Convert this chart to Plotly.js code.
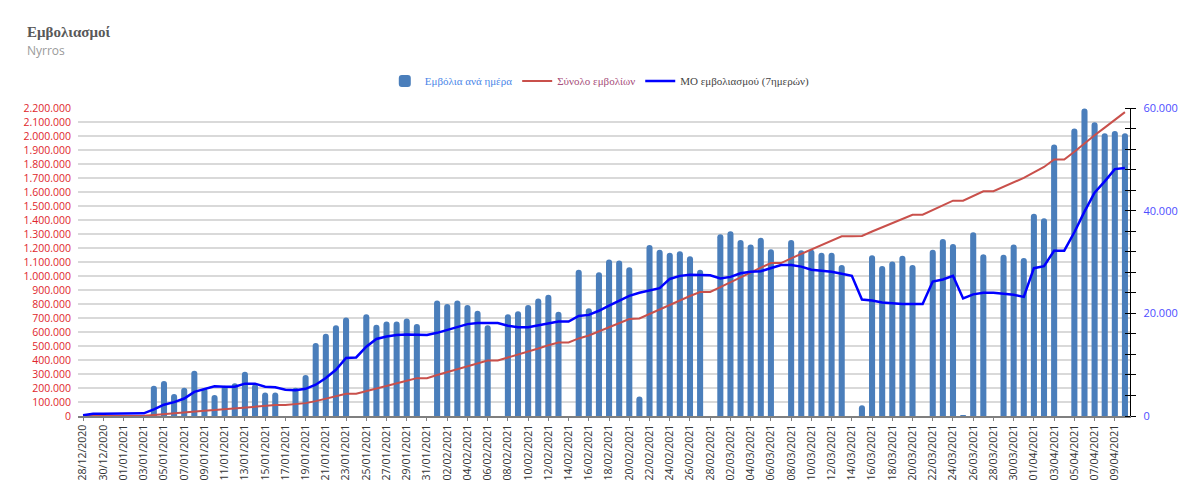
<!DOCTYPE html>
<html>
<head>
<meta charset="utf-8">
<script src="https://cdn.plot.ly/plotly-3.0.1.min.js"></script>
<style>html,body{margin:0;padding:0;background:#fff}#chart{width:1200px;height:501px}</style>
</head>
<body>
<div id="chart"></div>
<script>
const dates = [
"28/12/2020","29/12/2020","30/12/2020","31/12/2020",
"01/01/2021","02/01/2021","03/01/2021","04/01/2021","05/01/2021","06/01/2021","07/01/2021","08/01/2021","09/01/2021","10/01/2021",
"11/01/2021","12/01/2021","13/01/2021","14/01/2021","15/01/2021","16/01/2021","17/01/2021","18/01/2021","19/01/2021","20/01/2021",
"21/01/2021","22/01/2021","23/01/2021","24/01/2021","25/01/2021","26/01/2021","27/01/2021","28/01/2021","29/01/2021","30/01/2021","31/01/2021",
"01/02/2021","02/02/2021","03/02/2021","04/02/2021","05/02/2021","06/02/2021","07/02/2021","08/02/2021","09/02/2021","10/02/2021",
"11/02/2021","12/02/2021","13/02/2021","14/02/2021","15/02/2021","16/02/2021","17/02/2021","18/02/2021","19/02/2021","20/02/2021",
"21/02/2021","22/02/2021","23/02/2021","24/02/2021","25/02/2021","26/02/2021","27/02/2021","28/02/2021",
"01/03/2021","02/03/2021","03/03/2021","04/03/2021","05/03/2021","06/03/2021","07/03/2021","08/03/2021","09/03/2021","10/03/2021",
"11/03/2021","12/03/2021","13/03/2021","14/03/2021","15/03/2021","16/03/2021","17/03/2021","18/03/2021","19/03/2021","20/03/2021",
"21/03/2021","22/03/2021","23/03/2021","24/03/2021","25/03/2021","26/03/2021","27/03/2021","28/03/2021","29/03/2021","30/03/2021","31/03/2021",
"01/04/2021","02/04/2021","03/04/2021","04/04/2021","05/04/2021","06/04/2021","07/04/2021","08/04/2021","09/04/2021","10/04/2021"
];

const dailyDoses = [
0,450,400,0,0,0,0,5900,6800,4300,5500,8800,5400,4100,
5900,6400,8600,6200,4600,4600,0,5500,8000,14200,
16000,17700,19200,0,19800,17800,18400,18400,19000,17900,0,
22500,21800,22500,21600,20500,17700,0,19800,20400,21600,
22900,23600,20300,0,28500,21000,28000,30500,30300,29000,
3800,33300,32400,31800,32100,31100,28500,0,
35400,36000,34300,33400,34700,32500,0,34300,32300,32400,
31800,31800,29400,0,2100,31300,29200,30100,31200,29400,
0,32400,34500,33500,200,35800,31500,0,31400,33400,30800,
39400,38500,52900,0,56000,59900,57200,55100,55500,55100
];

const totalDoses = [
500,950,1350,1350,1350,1350,1350,7250,14050,18350,23850,32650,38050,42150,
48050,54450,63050,69250,73850,78450,78450,83950,91950,106150,
122150,139850,159050,159050,178850,196650,215050,233450,252450,270350,270350,
292850,314650,337150,358750,379250,396950,396950,416750,437150,458750,
481650,505250,525550,525550,554050,575050,603050,633550,663850,692850,
696650,729950,762350,794150,826250,857350,885850,885850,
921250,957250,991550,1024950,1059650,1092150,1092150,1126450,1158750,1191150,
1222950,1254750,1284150,1284150,1286250,1317550,1346750,1376850,1408050,1437450,
1437450,1469850,1504350,1537850,1538050,1573850,1605350,1605350,1636750,1670150,1700950,
1740350,1778850,1831750,1831750,1887750,1947650,2004850,2059950,2115450,2170550
];

const avg7 = [
130,450,450,450,450,450,520,1300,2200,2700,3400,4700,5300,5800,
5700,5700,6300,6300,5700,5600,5100,5000,5300,6100,
7400,9000,11300,11400,13500,15000,15500,15800,15900,15800,15800,
16200,16800,17400,17900,18100,18100,18100,17600,17300,17300,
17700,18100,18400,18400,19500,19700,20500,21500,22400,23400,
24000,24500,24900,26700,27300,27500,27500,27400,
26800,27100,27800,28100,28200,28800,29400,29400,29100,28500,
28300,28100,27700,27300,22700,22500,22100,21900,21800,21800,
21800,26200,26600,27300,22900,23700,24000,24000,23800,23600,23200,
28800,29200,32200,32200,35800,39800,43500,45700,48100,48300
];

const names = {
  daily: '<span style="color:#4a86e8">Εμβόλια ανά ημέρα</span>',
  total: '<span style="color:#a64d79">Σύνολο εμβολίων</span>',
  avg: '<span style="color:#444444">ΜΟ εμβολιασμού (7ημερών)</span>'
};

const tickDates = dates.filter((d, i) => i % 2 === 0);

const traces = [
  {
    type: 'bar', x: dates, y: dailyDoses, name: names.daily, yaxis: 'y',
    marker: {color: '#4a7ebb', cornerradius: 3}
  },
  {
    type: 'scatter', mode: 'lines', x: dates, y: totalDoses, name: names.total, yaxis: 'y2',
    line: {color: '#c9504b', width: 2}
  },
  {
    type: 'scatter', mode: 'lines', x: dates, y: avg7, name: names.avg, yaxis: 'y3',
    line: {color: '#0000ff', width: 2.5}
  }
];

const layout = {
  width: 1200, height: 501,
  margin: {l: 78, r: 70, t: 108, b: 85, pad: 0},
  paper_bgcolor: '#ffffff', plot_bgcolor: 'rgba(0,0,0,0)',
  separators: ',.',
  bargap: 0.4,
  showlegend: true,
  hovermode: false,
  font: {family: 'Open Sans, sans-serif', color: '#333'},
  legend: {
    orientation: 'h', x: 0.496, xanchor: 'center', y: 1.088, yanchor: 'middle',
    font: {family: 'Liberation Serif, serif', size: 11, color: '#444'},
    bgcolor: 'rgba(0,0,0,0)', itemwidth: 30, tracegroupgap: 0
  },
  xaxis: {
    type: 'category', tickmode: 'array', tickvals: tickDates, ticktext: tickDates,
    tickangle: -90, tickfont: {size: 10.5, color: '#333', family: 'Open Sans, sans-serif'},
    showline: true, linecolor: '#7f7f7f', linewidth: 1.5,
    ticks: 'outside', ticklen: 3, tickcolor: '#7f7f7f',
    showgrid: false, zeroline: false, fixedrange: true
  },
  yaxis: {
    side: 'right', range: [0, 60000], tickvals: [0, 20000, 40000, 60000],
    tickformat: ',d', tickfont: {size: 11, color: '#4d4dff'},
    showgrid: false, zeroline: false, showline: true, linecolor: '#000', linewidth: 1.2,
    ticks: '', ticklabelstandoff: 10,
    minor: {dtick: 4000, tick0: 0, ticks: 'outside', ticklen: 5, tickcolor: '#000', tickwidth: 1, showgrid: false},
    fixedrange: true
  },
  yaxis2: {
    overlaying: 'y', side: 'left', range: [0, 2200000], dtick: 100000,
    tickformat: ',d', tickfont: {size: 10.5, color: '#e0262b'},
    showgrid: true, gridcolor: '#d9d9d9', gridwidth: 1.5,
    zeroline: false, showline: false, ticks: '', ticklabelstandoff: 6,
    fixedrange: true
  },
  yaxis3: {
    overlaying: 'y', side: 'right', range: [0, 60000],
    showticklabels: false, showgrid: false, zeroline: false, showline: false,
    ticks: '', tickvals: [],
    minor: {dtick: 4000, tick0: 0, ticks: 'inside', ticklen: 5, tickcolor: '#000', tickwidth: 1, showgrid: false},
    fixedrange: true
  },
  annotations: [
    {
      xref: 'paper', yref: 'paper', x: -0.0504, y: 1.247, xanchor: 'left', yanchor: 'middle',
      text: '<b>Εμβολιασμοί</b>', showarrow: false,
      font: {family: 'Liberation Serif, serif', size: 15, color: '#595959'}
    },
    {
      xref: 'paper', yref: 'paper', x: -0.0504, y: 1.188, xanchor: 'left', yanchor: 'middle',
      text: 'Nyrros', showarrow: false,
      font: {family: 'Open Sans, sans-serif', size: 12, color: '#9a9a9a'}
    }
  ]
};

Plotly.newPlot('chart', traces, layout, {displayModeBar: false, staticPlot: true});
</script>
</body>
</html>
